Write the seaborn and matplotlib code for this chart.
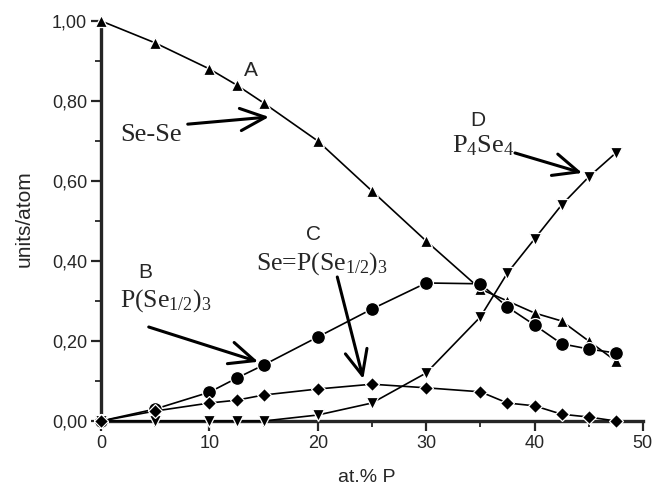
import matplotlib
matplotlib.use("Agg")
import matplotlib.pyplot as plt
import seaborn as sns
import pandas as pd
from matplotlib.ticker import MultipleLocator, FuncFormatter

x_A = [0, 5, 10, 12.5, 15, 20, 25, 30, 35, 37.5, 40, 42.5, 45, 47.5]
y_A = [1.00, 0.945, 0.88, 0.84, 0.795, 0.70, 0.575, 0.45, 0.33, 0.30, 0.27, 0.25, 0.20, 0.15]
x_B = [0, 5, 10, 12.5, 15, 20, 25, 30, 35, 37.5, 40, 42.5, 45, 47.5]
y_B = [0.0, 0.03, 0.072, 0.107, 0.14, 0.21, 0.28, 0.345, 0.343, 0.285, 0.24, 0.193, 0.18, 0.17]
x_C = [0, 5, 10, 12.5, 15, 20, 25, 30, 35, 37.5, 40, 42.5, 45, 47.5]
y_C = [0.0, 0.025, 0.045, 0.052, 0.065, 0.08, 0.092, 0.083, 0.073, 0.045, 0.038, 0.017, 0.01, 0.0]
x_D = [0, 5, 10, 12.5, 15, 20, 25, 30, 35, 37.5, 40, 42.5, 45, 47.5]
y_D = [0.0, 0.0, 0.0, 0.0, 0.0, 0.015, 0.045, 0.12, 0.26, 0.37, 0.455, 0.54, 0.61, 0.67]

sns.set_style("ticks")
plt.rcParams['font.family'] = ['Liberation Sans', 'DejaVu Sans']
plt.rcParams['mathtext.fontset'] = 'custom'
plt.rcParams['mathtext.rm'] = 'Liberation Serif'
plt.rcParams['mathtext.it'] = 'Liberation Serif:italic'

fig = plt.figure(figsize=(6.52, 4.87), dpi=100)
ax = fig.add_axes([0.155, 0.1355, 0.831, 0.8215])

series = [(x_A, y_A, '^', 9, 3), (x_B, y_B, 'o', 10, 3), (x_D, y_D, 'v', 8.5, 3), (x_C, y_C, 'D', 7, 4)]
for xs, ys, mk, ms, z in series:
    df = pd.DataFrame({'x': xs, 'y': ys})
    sns.lineplot(data=df, x='x', y='y', ax=ax, color='black', lw=1.2,
                 marker=mk, markersize=ms, markeredgecolor='white',
                 markeredgewidth=0.9, markerfacecolor='black', clip_on=False, zorder=z)

ax.set_xlim(0, 50)
ax.set_ylim(0, 1.0)
ax.xaxis.set_major_locator(MultipleLocator(10))
ax.xaxis.set_minor_locator(MultipleLocator(5))
ax.yaxis.set_major_locator(MultipleLocator(0.2))
ax.yaxis.set_minor_locator(MultipleLocator(0.1))
ax.yaxis.set_major_formatter(FuncFormatter(lambda v, p: f"{v:.2f}".replace('.', ',')))
sns.despine(ax=ax)
for s in ['left', 'bottom']:
    ax.spines[s].set_linewidth(2.4)
ax.tick_params(which='major', length=7, width=1.6, labelsize=13, pad=3)
ax.tick_params(which='minor', length=4, width=1.3)
ax.set_xlabel('at.% P', fontsize=14)
ax.set_ylabel('units/atom', fontsize=15)
ax.xaxis.set_label_coords(0.49, -0.12)
ax.yaxis.set_label_coords(-0.125, 0.505)

ap = dict(arrowstyle='->,head_length=0.9,head_width=0.4', lw=2.2, color='black',
          shrinkA=0, shrinkB=0, mutation_scale=20)

ax.text(13.8, 0.876, 'A', fontsize=15, ha='center', va='center')
ax.text(1.75, 0.715, 'Se-Se', fontsize=19, ha='left', va='center', family='Liberation Serif')
ax.annotate('', xy=(15.5, 0.76), xytext=(8.0, 0.742), arrowprops=ap)

ax.text(4.1, 0.37, 'B', fontsize=15, ha='center', va='center')
ax.text(1.75, 0.30, r'P(Se$_{1/2}$)$_3$', fontsize=18.5, ha='left', va='center', family='Liberation Serif')
ax.annotate('', xy=(14.5, 0.148), xytext=(4.4, 0.235), arrowprops=ap)

ax.text(19.6, 0.465, 'C', fontsize=15, ha='center', va='center')
ax.text(14.3, 0.393, r'Se=P(Se$_{1/2}$)$_3$', fontsize=18.5, ha='left', va='center', family='Liberation Serif')
ax.annotate('', xy=(24.2, 0.105), xytext=(21.8, 0.36), arrowprops=ap)

ax.text(34.8, 0.752, 'D', fontsize=15, ha='center', va='center')
ax.text(32.4, 0.687, r'P$_4$Se$_4$', fontsize=19, ha='left', va='center', family='Liberation Serif')
ax.annotate('', xy=(44.4, 0.62), xytext=(38.2, 0.67), arrowprops=ap)

fig.savefig('out.png', dpi=100)
